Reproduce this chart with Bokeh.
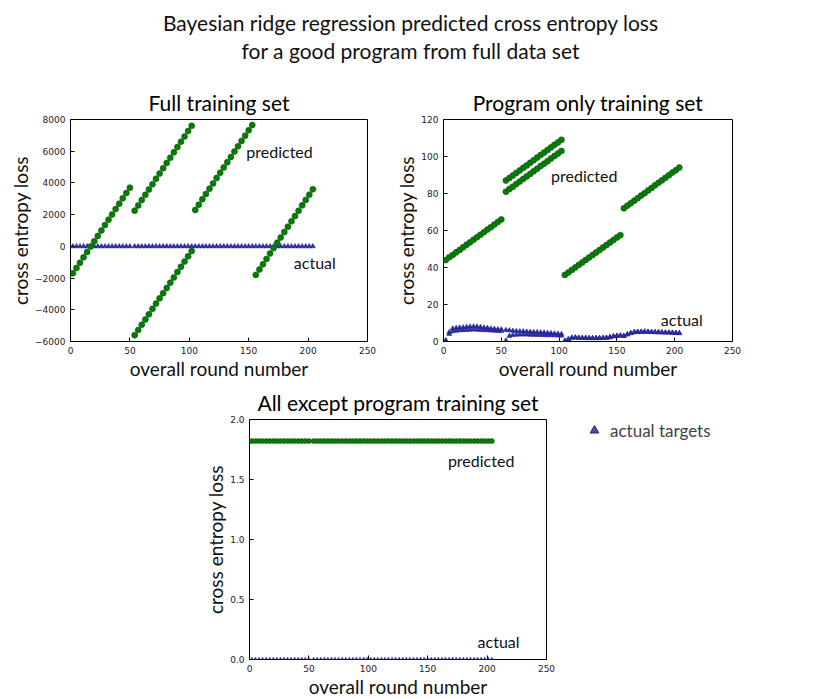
from bokeh.plotting import figure
from bokeh.layouts import column, row
from bokeh.models import Div, Spacer, Legend, LegendItem, CustomJSTickFormatter, Range1d, Label
from bokeh.embed import file_html
from bokeh.resources import INLINE

FONT = "Lato"
GREEN = "#007f00"
GEDGE = "#1f4f1f"
BLUE = "#2f2fb0"

# x positions of sampled rounds per segment
xa = [2, 5, 8, 11, 14, 17, 20, 23, 26, 29, 32, 35, 38, 41, 44, 47, 50]
xb = [54, 57, 60, 63, 66, 69, 72, 75, 78, 81, 84, 87, 90, 93, 96, 99, 102]
xc = [105, 108, 111, 114, 117, 120, 123, 126, 129, 132, 135, 138, 141, 144, 147, 150, 153]
xd = [156, 159, 162, 165, 168, 171, 174, 177, 180, 183, 186, 189, 192, 195, 198, 201, 204]

# Full training set predictions
full_a = [-1700, -1360, -1030, -690, -350, -10, 320, 660, 1000, 1340, 1680, 2010, 2350, 2690, 3030, 3360, 3700]
full_b1 = [2250, 2580, 2920, 3250, 3590, 3920, 4260, 4590, 4930, 5260, 5590, 5930, 6260, 6600, 6930, 7270, 7600]
full_b2 = [-5600, -5270, -4940, -4610, -4280, -3940, -3610, -3280, -2950, -2620, -2290, -1960, -1620, -1290, -960, -630, -300]
full_c = [2300, 2630, 2970, 3300, 3640, 3970, 4310, 4640, 4980, 5310, 5640, 5980, 6310, 6650, 6980, 7320, 7650]
full_d = [-1800, -1460, -1130, -790, -450, -110, 230, 560, 900, 1240, 1580, 1910, 2250, 2590, 2930, 3260, 3600]

# Program only predictions
prog_a = [44, 45.5, 46.8, 48.2, 49.5, 50.9, 52.3, 53.6, 55, 56.4, 57.7, 59.1, 60.5, 61.8, 63.2, 64.6, 66]
prog_b1 = [87, 88.4, 89.7, 91.1, 92.5, 93.9, 95.2, 96.6, 98, 99.4, 100.8, 102.1, 103.5, 104.9, 106.3, 107.6, 109]
prog_b2 = [81, 82.4, 83.7, 85.1, 86.5, 87.9, 89.2, 90.6, 92, 93.4, 94.8, 96.1, 97.5, 98.9, 100.3, 101.6, 103]
prog_c = [36, 37.3, 38.7, 40, 41.4, 42.7, 44.1, 45.4, 46.8, 48.1, 49.4, 50.8, 52.1, 53.5, 54.8, 56.2, 57.5]
prog_d = [72, 73.4, 74.7, 76.1, 77.5, 78.9, 80.2, 81.6, 83, 84.4, 85.8, 87.1, 88.5, 89.9, 91.3, 92.6, 94]

# Actual targets
act_a_hi = [0.5, 5, 7, 7.3, 7.5, 7.6, 7.8, 8, 8.1, 8, 7.8, 7.5, 7.3, 7, 6.8, 6.6, 6.5]
act_a_lo = [0.5, 4, 5.5, 5.8, 6, 6.1, 6.2, 6.3, 6.4, 6.3, 6.2, 6.1, 6, 5.9, 5.8, 5.7, 5.6]
act_b_hi = [6.2, 6, 5.8, 5.6, 5.5, 5.4, 5.3, 5.2, 5.1, 5, 4.9, 4.8, 4.6, 4.5, 4.3, 4.2, 4]
act_b_lo = [0.5, 3, 3.5, 3.6, 3.7, 3.7, 3.7, 3.6, 3.6, 3.5, 3.5, 3.4, 3.4, 3.3, 3.3, 3.2, 3.1]
act_c = [0.3, 1.2, 2, 2.1, 2, 1.9, 1.9, 1.8, 1.8, 1.8, 1.8, 1.9, 2, 2.3, 2.8, 3, 3.2]
act_d = [3, 3.8, 4.5, 5, 5.2, 5.2, 5.3, 5.2, 5.1, 5, 5, 4.9, 4.8, 4.8, 4.7, 4.6, 4.5]

# All except program predictions (constant)
exc_pred = [1.82e8] * 17

x_all = xa + xb + xc + xd
act_all = act_a_hi + act_b_hi + act_c + act_d
act_all_lo = act_a_lo + act_b_lo + act_c + act_d


def style(p, title):
    p.title.text = title
    p.title.text_font = FONT
    p.title.text_font_size = "21px"
    p.title.text_font_style = "normal"
    p.title.align = "center"
    p.title.text_color = "black"
    p.outline_line_color = "black"
    p.outline_line_width = 1
    p.grid.visible = False
    for ax in (p.xaxis[0], p.yaxis[0]):
        ax.axis_line_color = None
        ax.major_tick_in = 4
        ax.major_tick_out = 0
        ax.minor_tick_line_color = None
        ax.major_label_text_font_size = "9px"
        ax.major_label_text_font = "DejaVu Sans"
        ax.major_label_text_color = "#222222"
        ax.axis_label_text_font = FONT
        ax.axis_label_text_font_size = "19px"
        ax.axis_label_text_font_style = "normal"
        ax.axis_label_text_color = "#111111"
        ax.axis_label_standoff = 0
    p.xaxis.axis_label = "overall round number"
    p.yaxis.axis_label = "cross entropy loss"
    p.x_range = Range1d(0, 250)
    p.xaxis.ticker = [0, 50, 100, 150, 200, 250]


def note(p, x, y, t):
    p.add_layout(Label(x=x, y=y, text=t, text_font=FONT, text_font_size="16px",
                       text_baseline="middle", text_color="#111111"))


def pred(p, xs, ys, s=6):
    return p.scatter(xs, ys, size=s, fill_color=GREEN, line_color=GEDGE, line_width=0.6)


def act(p, xs, ys, s=5):
    return p.scatter(xs, ys, marker="triangle", size=s, fill_color=BLUE, line_color="#1a1a80", line_width=0.5)


# ---- plot 1
p1 = figure(width=392, height=300, output_backend="svg", toolbar_location=None,
            min_border_left=70, min_border_right=25, min_border_top=0, min_border_bottom=0,
            y_range=Range1d(-6000, 8000))
style(p1, "Full training set")
p1.yaxis.ticker = list(range(-6000, 8001, 2000))
act(p1, x_all, [0] * len(x_all))
for ys, xs in ((full_a, xa), (full_b1, xb), (full_b2, xb), (full_c, xc), (full_d, xd)):
    pred(p1, xs, ys)
note(p1, 148, 6000, "predicted")
note(p1, 188, -1000, "actual")

# ---- plot 2
p2 = figure(width=419, height=300, output_backend="svg", toolbar_location=None,
            min_border_left=43, min_border_right=79, min_border_top=0, min_border_bottom=0,
            y_range=Range1d(0, 120))
style(p2, "Program only training set")
p2.yaxis.ticker = list(range(0, 121, 20))
act(p2, x_all, act_all)
act(p2, x_all, act_all_lo)
for ys, xs in ((prog_a, xa), (prog_b1, xb), (prog_b2, xb), (prog_c, xc), (prog_d, xd)):
    pred(p2, xs, ys)
note(p2, 93, 90, "predicted")
note(p2, 188, 12, "actual")

# ---- plot 3
p3 = figure(width=392, height=318, output_backend="svg", toolbar_location=None,
            min_border_left=70, min_border_right=25, min_border_top=0, min_border_bottom=0,
            y_range=Range1d(0, 2.0e8))
style(p3, "All except program training set")
p3.yaxis.ticker = [0, 0.5e8, 1.0e8, 1.5e8, 2.0e8]
p3.yaxis.formatter = CustomJSTickFormatter(code="return (tick/1e8).toFixed(1);")
act(p3, x_all, [0] * len(x_all), s=4)
pred(p3, x_all, exc_pred * 4, s=5)
p3.add_layout(Label(x=0, y=2.0e8, text="1e8", text_font="DejaVu Sans", text_font_size="8px",
                    text_baseline="bottom", y_offset=1, text_color="#222222"))
note(p3, 167, 1.66e8, "predicted")
note(p3, 192, 0.15e8, "actual")

# ---- legend panel
pl = figure(width=240, height=318, output_backend="svg", toolbar_location=None,
            x_range=Range1d(0, 1), y_range=Range1d(0, 1), min_border=0)
pl.axis.visible = False
pl.grid.visible = False
pl.outline_line_color = None
lp = pl.scatter([-5], [-5], size=15, fill_color=GREEN, line_color=GEDGE)
la = pl.scatter([-5], [-5], marker="triangle", size=14, fill_color="#4a4aa0", line_color="#2a2a70")
leg = Legend(items=[LegendItem(label="predicted targets", renderers=[lp]),
                    LegendItem(label="actual targets", renderers=[la])],
             location=(12, 218), border_line_color=None, label_text_font=FONT,
             label_text_font_size="17px", glyph_width=22, glyph_height=22, spacing=10,
             padding=0, margin=0, background_fill_alpha=0)
pl.add_layout(leg)

title = Div(text="Bayesian ridge regression predicted cross entropy loss<br>for a good program from full data set",
            width=811, height=72,
            styles={"text-align": "center", "font-family": "Lato", "font-size": "21px",
                    "line-height": "28px", "color": "#111", "padding-top": "4px", "width": "811px"})

layout = column(title, row(p1, p2), row(Spacer(width=179, height=10), p3, pl))
open("out.html", "w").write(file_html(layout, INLINE))
